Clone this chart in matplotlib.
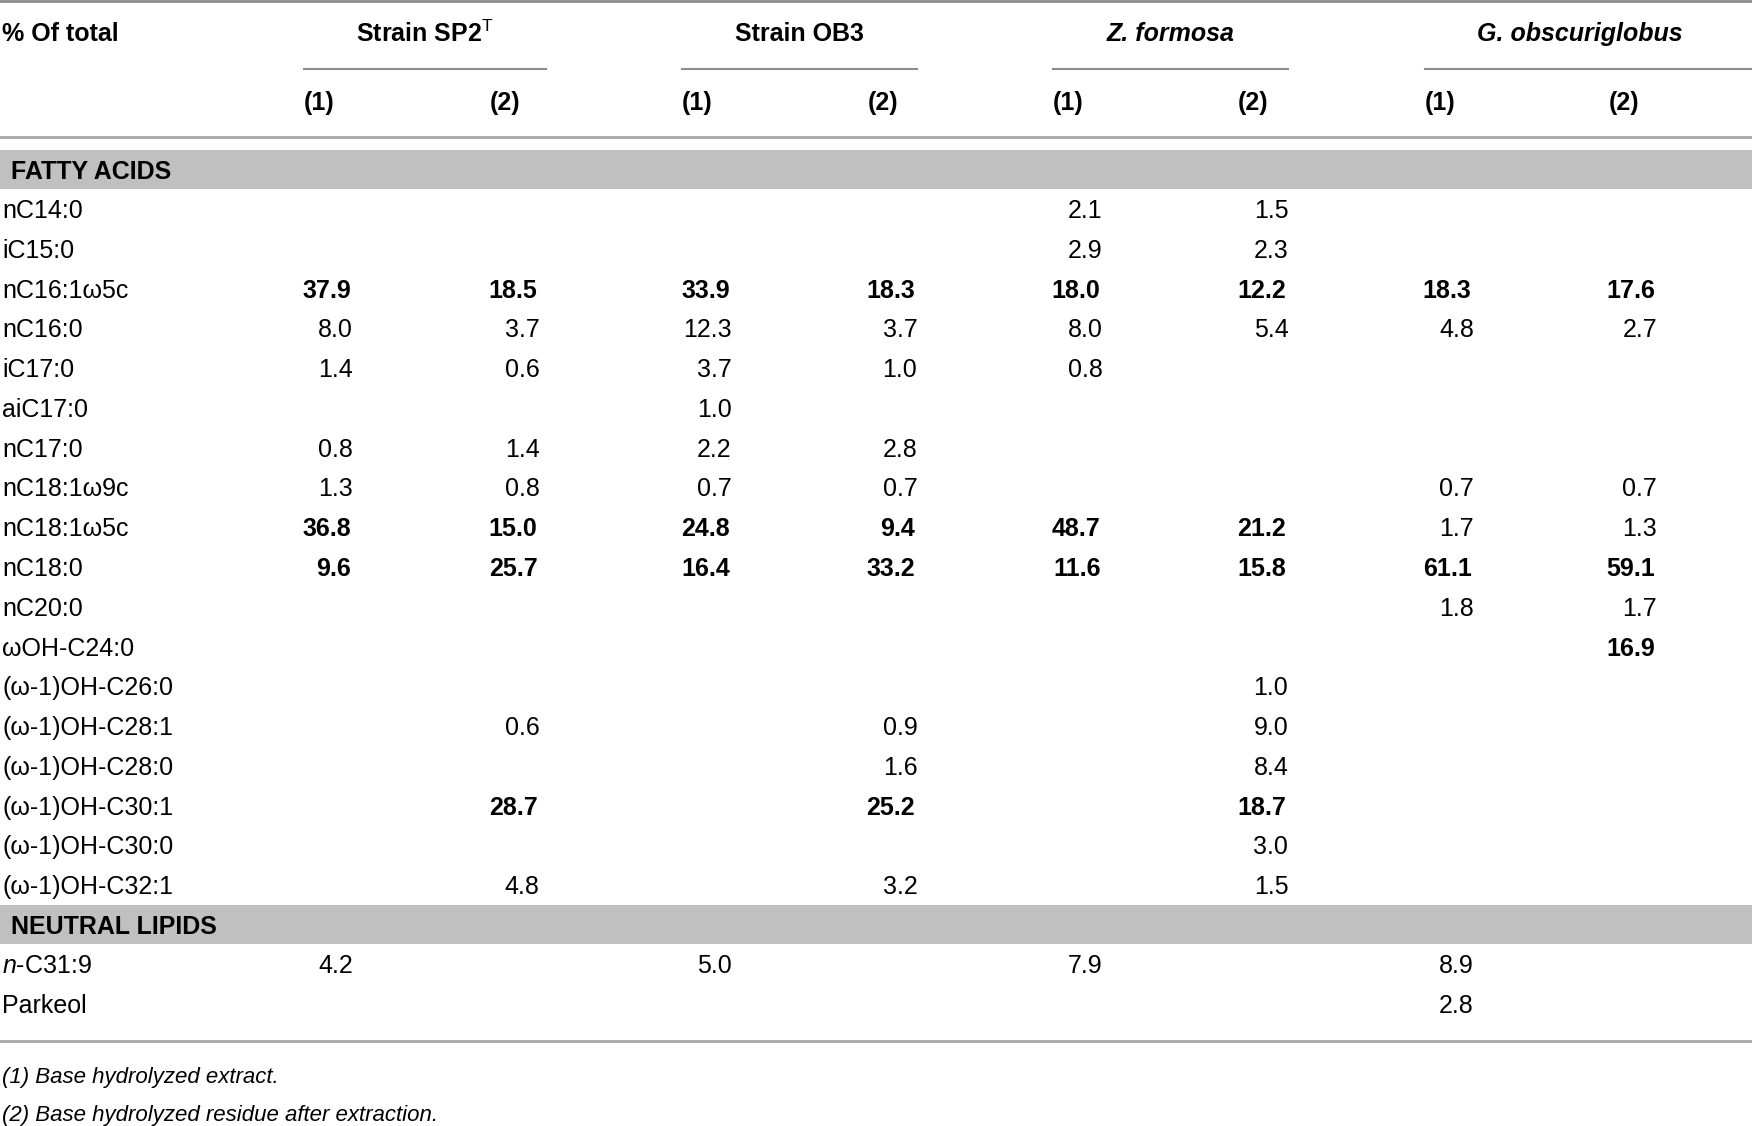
import matplotlib.pyplot as plt
from matplotlib import font_manager

# table content
groups = ['Strain SP2$^{\\mathrm{T}}$', 'Strain OB3', 'Z. formosa', 'G. obscuriglobus']
group_italic = [False, False, True, True]
sub_labels = ['(1)', '(2)']

fatty_acids = ['nC14:0', 'iC15:0', 'nC16:1\u03c95c', 'nC16:0', 'iC17:0', 'aiC17:0',
               'nC17:0', 'nC18:1\u03c99c', 'nC18:1\u03c95c', 'nC18:0', 'nC20:0',
               '\u03c9OH-C24:0', '(\u03c9-1)OH-C26:0', '(\u03c9-1)OH-C28:1',
               '(\u03c9-1)OH-C28:0', '(\u03c9-1)OH-C30:1', '(\u03c9-1)OH-C30:0',
               '(\u03c9-1)OH-C32:1']
fa_values = [
    ['', '', '', '', '2.1', '1.5', '', ''],
    ['', '', '', '', '2.9', '2.3', '', ''],
    ['37.9', '18.5', '33.9', '18.3', '18.0', '12.2', '18.3', '17.6'],
    ['8.0', '3.7', '12.3', '3.7', '8.0', '5.4', '4.8', '2.7'],
    ['1.4', '0.6', '3.7', '1.0', '0.8', '', '', ''],
    ['', '', '1.0', '', '', '', '', ''],
    ['0.8', '1.4', '2.2', '2.8', '', '', '', ''],
    ['1.3', '0.8', '0.7', '0.7', '', '', '0.7', '0.7'],
    ['36.8', '15.0', '24.8', '9.4', '48.7', '21.2', '1.7', '1.3'],
    ['9.6', '25.7', '16.4', '33.2', '11.6', '15.8', '61.1', '59.1'],
    ['', '', '', '', '', '', '1.8', '1.7'],
    ['', '', '', '', '', '', '', '16.9'],
    ['', '', '', '', '', '1.0', '', ''],
    ['', '0.6', '', '0.9', '', '9.0', '', ''],
    ['', '', '', '1.6', '', '8.4', '', ''],
    ['', '28.7', '', '25.2', '', '18.7', '', ''],
    ['', '', '', '', '', '3.0', '', ''],
    ['', '4.8', '', '3.2', '', '1.5', '', ''],
]
# bold cells: whole rows, extra single cells, and cells left plain in bold rows
fa_bold_rows = [2, 8, 9]
fa_bold_cells = [(15, 1), (15, 3), (15, 5), (11, 7)]
fa_not_bold = [(8, 6), (8, 7)]

neutral_lipids = ['$\\it{n}$-C31:9', 'Parkeol']
nl_values = [
    ['4.2', '', '5.0', '', '7.9', '', '8.9', ''],
    ['', '', '', '', '', '', '2.8', ''],
]
footnotes = ['(1) Base hydrolyzed extract.',
             '(2) Base hydrolyzed residue after extraction.']

# fonts
names = {f.name for f in font_manager.fontManager.ttflist}
body_font = 'Liberation Sans Narrow' if 'Liberation Sans Narrow' in names else 'Liberation Sans'
plt.rcParams['font.family'] = [body_font, 'DejaVu Sans']
plt.rcParams['mathtext.fontset'] = 'custom'
plt.rcParams['mathtext.rm'] = body_font
plt.rcParams['mathtext.it'] = body_font + ':italic'
plt.rcParams['mathtext.bf'] = body_font + ':bold'

fig = plt.figure(figsize=(17.52, 11.26), dpi=100)
ax = fig.add_axes([0, 0, 1, 1])
ax.set_xlim(0, 1568)
ax.set_ylim(1008, 0)
ax.axis('off')

fs = 18
dy = 2  # small downward nudge for text
line_col = '#8c8c8c'
band_col = '#c0c0c0'
col_right = [316, 483, 655, 821, 987, 1153, 1319, 1483]
col_left = [272, 438, 610, 777, 942, 1108, 1275, 1440]
span_l = [272, 610, 942, 1275]
span_r = [489, 821, 1153, 1568]

# header
ax.axhline(1, color=line_col, lw=2)
ax.text(2, 28 + dy, '% Of total', fontsize=fs, fontweight='bold', va='center', ha='left')
for g, name in enumerate(groups):
    xc = (span_l[g] + span_r[g]) / 2 if g < 3 else 1414
    ax.text(xc, 28 + dy, name, fontsize=fs, fontweight='bold', va='center', ha='center',
            style='italic' if group_italic[g] else 'normal')
    ax.plot([span_l[g], span_r[g]], [62, 62], color=line_col, lw=1.5)
for c in range(8):
    ax.text(col_left[c], 90 + dy, sub_labels[c % 2], fontsize=fs, fontweight='bold',
            va='center', ha='left')
ax.axhline(123, color='#a8a8a8', lw=2)

row_h = 35.6

def band(y, label):
    ax.axhspan(y - 17.5, y + 17.5, color=band_col, lw=0)
    ax.text(10, y + dy, label, fontsize=fs, fontweight='bold', va='center', ha='left')

def data_rows(y0, labels, values, bold):
    for i, (lab, vals) in enumerate(zip(labels, values)):
        y = y0 + i * row_h + dy
        ax.text(2, y, lab, fontsize=fs, va='center', ha='left')
        for c, v in enumerate(vals):
            if v:
                b = bold(i, c)
                ax.text(col_right[c] - (2 if b else 0), y, v, fontsize=fs,
                        fontweight='bold' if b else 'normal', va='center', ha='right')

band(152, 'FATTY ACIDS')
data_rows(187, fatty_acids, fa_values,
          lambda i, c: ((i in fa_bold_rows or (i, c) in fa_bold_cells)
                        and (i, c) not in fa_not_bold))
band(828, 'NEUTRAL LIPIDS')
data_rows(863, neutral_lipids, nl_values, lambda i, c: False)

ax.axhline(932, color='#a8a8a8', lw=2)
for k, note in enumerate(footnotes):
    ax.text(2, 963 + k * 34 + dy, note, fontsize=fs - 2, style='italic', va='center', ha='left')

fig.savefig('out.png', dpi=100)
